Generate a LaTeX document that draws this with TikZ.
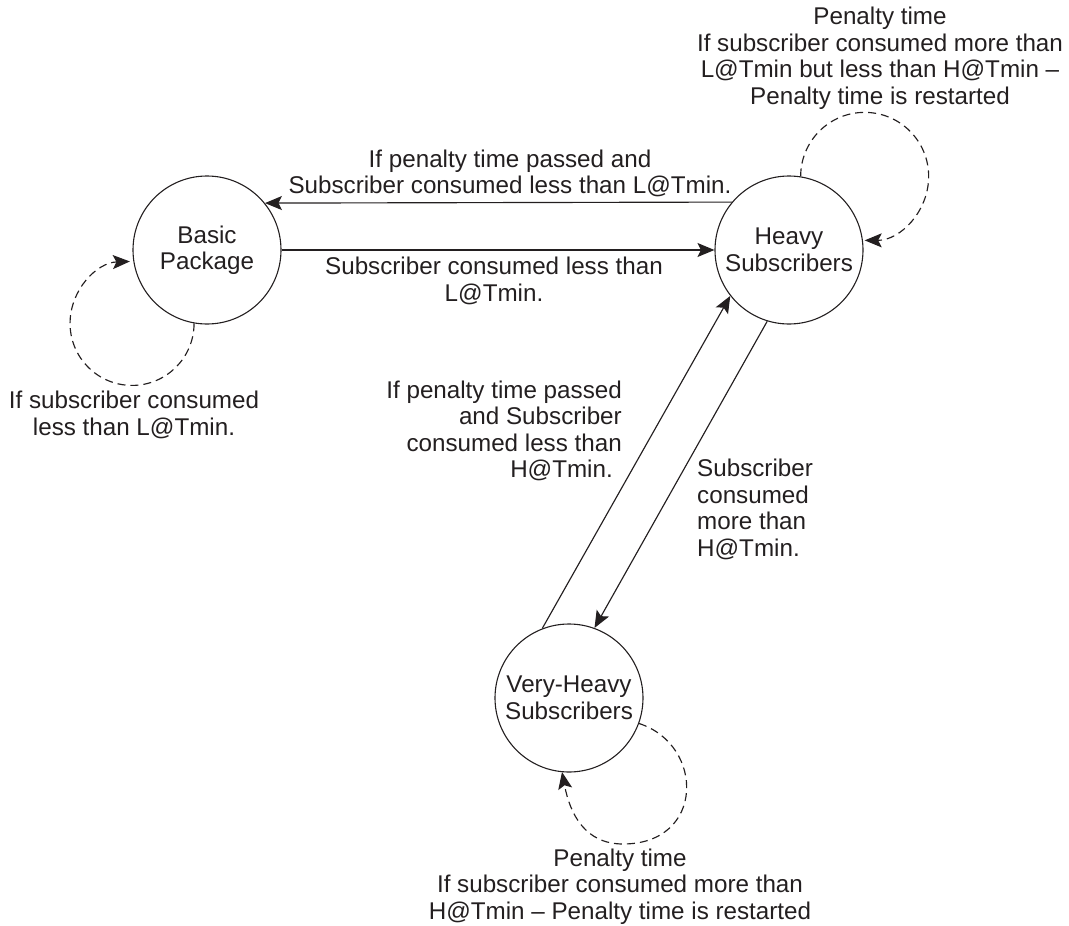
\documentclass[tikz,border=0pt]{standalone}
\usepackage{fontspec}
\setmainfont{Liberation Sans}
\usetikzlibrary{arrows.meta}
\definecolor{ink}{RGB}{35,31,32}
\begin{document}
\begin{tikzpicture}[x=1pt,y=1pt,
  every node/.style={text=ink,font=\fontsize{24.2pt}{26.5pt}\selectfont},
  state/.style={circle,draw=ink,line width=1.1pt,minimum size=148pt,inner sep=0pt,align=center},
  lbl/.style={inner sep=0pt},
  trans/.style={draw=ink,line width=1.15pt,-{Stealth[length=17pt,width=14pt,inset=3.5pt]}},
  selfloop/.style={trans,dash pattern=on 8pt off 5pt}]
\useasboundingbox (0,0) rectangle (1069,-926);
\node[state] (basic) at (207,-250) {Basic\\Package};
\node[state] (heavy) at (789,-250) {Heavy\\Subscribers};
\node[state] (vh) at (569,-698) {Very-Heavy\\Subscribers};
\coordinate (vhend) at (562,-772);
% transitions
\draw[trans] (heavy.140.6) -- (basic.39.4);
\draw[trans] (basic.east) -- (heavy.west);
\draw[trans] (vh.111.1) -- (heavy.218.5);
\draw[trans] (heavy.253.7) -- (vh.70);
% self loops
\draw[selfloop] (basic.260) arc[start angle=0,end angle=-268,radius=62];
\draw[selfloop] (heavy.81.4) arc[start angle=180,end angle=-90,radius=64];
\draw[selfloop] (vh.-20) .. controls (705,-745) and (705,-844) .. (623,-844)
  .. controls (585,-844) and (570,-814) .. (vhend);
% labels
\node[lbl,align=center] (lup) at (510,-173.5) {If penalty time passed and\\Subscriber consumed less than L@Tmin.};
\node[lbl,align=center] (llow) at (494,-281) {Subscriber consumed less than\\L@Tmin.};
\node[lbl,align=center] (lbasic) at (134,-415) {If subscriber consumed\\less than L@Tmin.};
\node[lbl,align=right,anchor=east] (lleft) at (622,-431) {If penalty time passed\\and Subscriber\\consumed less than\\H@Tmin.\hspace*{9pt}};
\node[lbl,align=left,anchor=west] (lright) at (697,-509.5) {Subscriber\\consumed\\more than\\H@Tmin.};
\node[lbl,align=center] (ltop) at (880,-58) {Penalty time\\If subscriber consumed more than\\L@Tmin but less than H@Tmin --\\Penalty time is restarted};
\node[lbl,align=center] (lbot) at (620,-886.7) {Penalty time\\If subscriber consumed more than\\H@Tmin -- Penalty time is restarted};
\end{tikzpicture}
\end{document}
